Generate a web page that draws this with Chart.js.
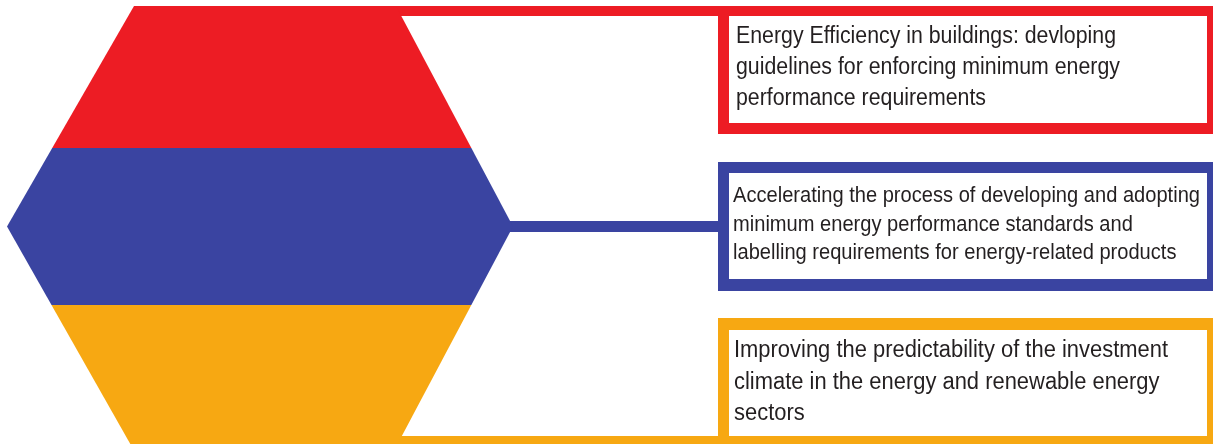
<!DOCTYPE html>
<html>
<head>
<meta charset="utf-8">
<script src="https://cdn.jsdelivr.net/npm/chart.js@4.4.1/dist/chart.umd.min.js"></script>
<style>
html,body{margin:0;padding:0;background:#fff;overflow:hidden;}
#wrap{width:1213px;height:444px;position:relative;}
</style>
</head>
<body>
<div id="wrap"><canvas id="c" width="1213" height="444"></canvas></div>
<script>
// ---- content ----
const themes = [
  ["Energy Efficiency in buildings: devloping", "guidelines for enforcing minimum energy", "performance requirements"],
  ["Accelerating the process of developing and adopting", "minimum energy performance standards and", "labelling requirements for energy-related products"],
  ["Improving the predictability of the investment", "climate in the energy and renewable energy", "sectors"]
];
const bandColors = ["#ED1C24", "#3A44A1", "#F7A812"];
const textColor = "#231F20";

// ---- layout (pixel-space coordinates through linear scales) ----
const hexagon = [[134,6],[396,6],[513,226.5],[396,447],[132,447],[7,226.5]];
const bandEdges = [0,148,305,450];
const boxes = [
  {x0:718,x1:1213,y0:6,y1:134,ix0:729,ix1:1207,iy0:16,iy1:123},
  {x0:718,x1:1213,y0:162,y1:291,ix0:729,ix1:1207,iy0:173,iy1:279},
  {x0:718,x1:1213,y0:318,y1:450,ix0:729,ix1:1207,iy0:330,iy1:436}
];
const connectors = [
  {x0:380,x1:720,y0:6,y1:16},
  {x0:505,x1:720,y0:221,y1:232},
  {x0:380,x1:720,y0:436,y1:450}
];
const textStyle = [
  {x:736, base:43, lh:31, size:23, width:380},
  {x:733, base:202, lh:28.5, size:21.5, width:467},
  {x:734, base:357, lh:31.5, size:23, width:434}
];

const diagramPlugin = {
  id:'diagram',
  beforeDatasetsDraw(chart){
    const ctx = chart.ctx, xs = chart.scales.x, ys = chart.scales.y;
    const px = v => xs.getPixelForValue(v), py = v => ys.getPixelForValue(v);
    const rect = (x0,y0,x1,y1,col) => {
      ctx.fillStyle = col;
      ctx.fillRect(px(x0), py(y0), px(x1)-px(x0), py(y1)-py(y0));
    };
    ctx.save();
    // connectors and frames
    connectors.forEach((c,i)=>rect(c.x0,c.y0,c.x1,c.y1,bandColors[i]));
    boxes.forEach((b,i)=>{
      rect(b.x0,b.y0,b.x1,b.y1,bandColors[i]);
      rect(b.ix0,b.iy0,b.ix1,b.iy1,"#ffffff");
    });
    // hexagon with three bands
    ctx.save();
    ctx.beginPath();
    hexagon.forEach((p,i)=>{ i? ctx.lineTo(px(p[0]),py(p[1])) : ctx.moveTo(px(p[0]),py(p[1])); });
    ctx.closePath();
    ctx.clip();
    for(let i=0;i<3;i++) rect(0,bandEdges[i],560,bandEdges[i+1],bandColors[i]);
    ctx.restore();
    // texts
    themes.forEach((lines,i)=>{
      const s = textStyle[i];
      ctx.font = s.size + "px 'Liberation Sans Narrow', 'Liberation Sans', Arial, sans-serif";
      ctx.fillStyle = textColor;
      ctx.textBaseline = 'alphabetic';
      ctx.textAlign = 'left';
      const w = ctx.measureText(lines[0]).width;
      const sx = s.width / w;
      lines.forEach((ln,j)=>{
        ctx.save();
        ctx.translate(px(s.x), py(s.base + j*s.lh));
        ctx.scale(sx,1);
        ctx.fillText(ln,0,0);
        ctx.restore();
      });
    });
    ctx.restore();
  }
};

new Chart(document.getElementById('c'), {
  type:'scatter',
  data:{datasets:[{data:[], pointRadius:0}]},
  options:{
    responsive:false,
    animation:false,
    devicePixelRatio:1,
    layout:{padding:0},
    plugins:{legend:{display:false}, tooltip:{enabled:false}},
    scales:{
      x:{type:'linear', min:0, max:1213, display:false},
      y:{type:'linear', min:0, max:444, reverse:true, display:false}
    }
  },
  plugins:[diagramPlugin]
});
</script>
</body>
</html>
